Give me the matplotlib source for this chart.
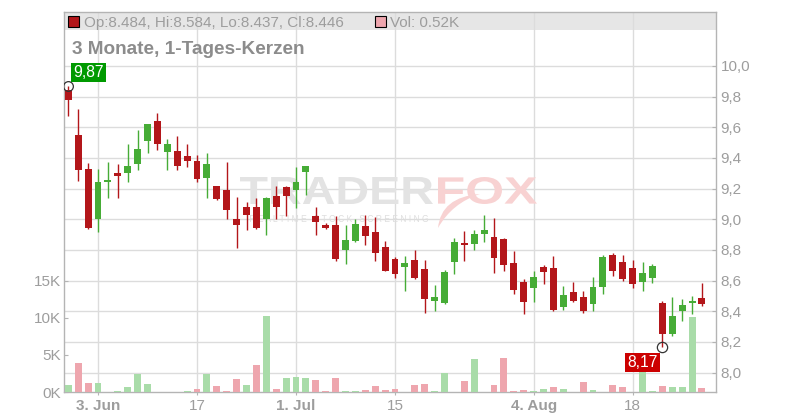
import matplotlib
matplotlib.use("Agg")
import matplotlib.pyplot as plt
from matplotlib.patches import Rectangle, PathPatch
from matplotlib.path import Path
from matplotlib.textpath import TextPath
from matplotlib.font_manager import FontProperties
from matplotlib.transforms import Affine2D
import numpy as np
import pandas as pd

plt.rcParams['font.family'] = ['Liberation Sans', 'DejaVu Sans']

# daily candles, 29 May - 27 Aug 2025
dates = pd.bdate_range("2025-05-29", periods=65)

opens = [9.84, 9.55, 9.33, 9.00, 9.24, 9.30, 9.30, 9.36, 9.51, 9.64,
         9.44, 9.445, 9.41, 9.38, 9.27, 9.22, 9.19, 9.00, 9.08, 9.08,
         9.00, 9.15, 9.21, 9.19, 9.31, 9.02, 8.965, 8.96, 8.80, 8.86,
         8.955, 8.92, 8.82, 8.74, 8.69, 8.735, 8.675, 8.47, 8.455, 8.72,
         8.845, 8.84, 8.905, 8.885, 8.87, 8.715, 8.59, 8.55, 8.69, 8.68,
         8.43, 8.525, 8.495, 8.445, 8.56, 8.765, 8.72, 8.685, 8.59, 8.615,
         8.455, 8.255, 8.40, 8.455, 8.484]
highs = [9.87, 9.72, 9.365, 9.33, 9.37, 9.36, 9.49, 9.58, 9.62, 9.69,
         9.52, 9.54, 9.49, 9.42, 9.43, 9.22, 9.37, 9.145, 9.11, 9.14,
         9.145, 9.22, 9.22, 9.34, 9.35, 9.08, 8.975, 9.02, 8.96, 9.00,
         9.03, 9.015, 8.86, 8.755, 8.76, 8.80, 8.735, 8.57, 8.67, 8.875,
         8.925, 8.93, 9.03, 9.01, 8.875, 8.795, 8.61, 8.665, 8.70, 8.76,
         8.565, 8.59, 8.535, 8.625, 8.77, 8.78, 8.77, 8.735, 8.72, 8.71,
         8.465, 8.495, 8.48, 8.50, 8.584]
lows = [9.67, 9.25, 8.935, 8.92, 9.14, 9.14, 9.24, 9.32, 9.43, 9.45,
        9.32, 9.32, 9.34, 9.245, 9.14, 9.125, 9.00, 8.815, 8.93, 8.935,
        8.90, 9.00, 9.02, 9.075, 9.155, 8.90, 8.935, 8.73, 8.71, 8.855,
        8.835, 8.73, 8.66, 8.615, 8.53, 8.61, 8.39, 8.40, 8.45, 8.645,
        8.73, 8.80, 8.85, 8.65, 8.665, 8.515, 8.38, 8.46, 8.575, 8.40,
        8.41, 8.46, 8.39, 8.40, 8.515, 8.63, 8.60, 8.555, 8.535, 8.585,
        8.17, 8.24, 8.335, 8.385, 8.437]
closes = [9.78, 9.32, 8.945, 9.24, 9.255, 9.285, 9.35, 9.46, 9.62, 9.49,
          9.49, 9.345, 9.38, 9.265, 9.36, 9.13, 9.063, 8.96, 9.03, 8.94,
          9.14, 9.08, 9.15, 9.24, 9.35, 8.985, 8.945, 8.74, 8.865, 8.97,
          8.89, 8.78, 8.665, 8.64, 8.715, 8.62, 8.48, 8.49, 8.655, 8.85,
          8.835, 8.905, 8.93, 8.745, 8.705, 8.54, 8.46, 8.625, 8.655, 8.41,
          8.505, 8.47, 8.40, 8.56, 8.755, 8.665, 8.61, 8.58, 8.65, 8.695,
          8.25, 8.37, 8.44, 8.465, 8.446]
volumes_k = [0.98, 3.9, 1.25, 1.25, 0, 0.15, 0.7, 2.45, 1.1, 0,
             0, 0, 0.15, 0.45, 2.45, 0.85, 0.2, 1.8, 0.98, 3.6,
             10.2, 0.43, 1.9, 2.05, 1.9, 1.65, 0.15, 1.9, 0.15, 0.15,
             0.3, 0.85, 0.3, 0.4, 0, 0.95, 1.05, 0.15, 2.55, 0,
             1.5, 4.5, 0, 0.95, 4.6, 0.15, 0.25, 0.1, 0.4, 0.65,
             0.4, 0, 1.35, 0.27, 0, 0.95, 0.67, 0, 3.2, 0.15,
             0.8, 0.68, 0.68, 10.1, 0.52]

tick_dates = ["2025-06-03", "2025-06-17", "2025-07-01", "2025-07-15", "2025-08-04", "2025-08-18"]
tick_labels = ["3. Jun", "17", "1. Jul", "15", "4. Aug", "18"]
bold_labels = ["3. Jun", "1. Jul", "4. Aug"]
price_ticks = [8.0, 8.2, 8.4, 8.6, 8.8, 9.0, 9.2, 9.4, 9.6, 9.8, 10.0]
price_labels = ["8,0", "8,2", "8,4", "8,6", "8,8", "9,0", "9,2", "9,4", "9,6", "9,8", "10,0"]
vol_ticks = [0, 5, 10, 15]
vol_labels = ["0K", "5K", "10K", "15K"]

UP = '#46ac36'
DOWN = '#b3161a'
VOL_UP = '#a9dca9'
VOL_DOWN = '#eea6ae'
GRID = '#dcdcdc'
FRAME = '#b4b4b4'
TXT = '#9d9d9d'

W, H = 800, 420
fig = plt.figure(figsize=(8, 4.2), dpi=100)
ax = fig.add_axes([64 / W, 28 / H, 652 / W, 380 / H])
axv = ax.twinx()

x = np.arange(len(dates))
o = np.array(opens)
c = np.array(closes)

# price candles
up = c >= o
col = np.where(up, UP, DOWN)
ax.vlines(x, lows, highs, colors=col, lw=1.0, zorder=2)
body_lo = np.minimum(o, c)
body_h = np.maximum(np.abs(c - o), 0.012)
ax.bar(x, body_h, bottom=body_lo, width=0.7, color=col, lw=0, zorder=3)

ax.set_xlim(-0.434, 65.42)
ax.set_ylim(7.874, 10.351)
ax.yaxis.tick_right()
ax.set_yticks(price_ticks)
ax.set_yticklabels(price_labels)
pos = [dates.get_loc(pd.Timestamp(d)) for d in tick_dates]
ax.set_xticks(pos)
ax.set_xticklabels(tick_labels)
for lab in ax.get_xticklabels():
    if lab.get_text() in bold_labels:
        lab.set_fontweight('bold')
ax.tick_params(axis='y', direction='in', length=3, width=0.8, color=FRAME,
               labelsize=11, labelcolor=TXT, pad=3.4)
ax.tick_params(axis='x', direction='out', length=2.2, width=0.8, color=FRAME,
               labelsize=11, labelcolor=TXT, pad=2.8)
ax.grid(True, color=GRID, lw=1.0)
ax.set_axisbelow(True)
for s in ax.spines.values():
    s.set_color(FRAME)
    s.set_linewidth(1.0)

# header strip
ax.add_patch(Rectangle((0, 1 - 18 / 380), 1, 18 / 380, transform=ax.transAxes,
                       fc='#e6e6e6', ec='none', zorder=0.3))


def watermark(text, x0, x1, ytop, ybot, color, weight='bold'):
    fp = FontProperties(family='Liberation Sans', weight=weight)
    tp = TextPath((0, 0), text, size=100, prop=fp)
    bb = tp.get_extents()
    sx = (x1 - x0) / bb.width
    sy = (ybot - ytop) / bb.height
    tr = Affine2D().translate(-bb.x0, -bb.y0).scale(sx, sy).translate(x0, H - ybot)
    ax.add_artist(PathPatch(tp, transform=tr, fc=color, ec='none', zorder=0.6))


watermark("TRADER", 240, 433, 177, 204, '#e3e3e3')
watermark("FOX", 438, 537, 177, 204, '#f8d2d2')
watermark("R E A L T I M E   S T O C K   S C R E E N I N G", 250, 428, 215, 222,
          '#dedede', weight='normal')

# fox tail swoosh under the logo
tail = Path([(438, H - 228), (441, H - 197), (480, H - 194),
             (452, H - 203), (438, H - 228)],
            [Path.MOVETO, Path.CURVE3, Path.CURVE3, Path.CURVE3, Path.CURVE3])
ax.add_artist(PathPatch(tail, transform=Affine2D(), fc='#f8d2d2', ec='none', zorder=0.6))

# volume
prev = np.concatenate([[c[0]], c[:-1]])
vcol = np.where(c >= prev, VOL_UP, VOL_DOWN)
axv.bar(x, volumes_k, width=0.7, color=vcol, lw=0, zorder=2)
axv.set_ylim(0, 380 / 7.42)
axv.yaxis.tick_left()
axv.set_yticks(vol_ticks)
axv.set_yticklabels(vol_labels)
axv.tick_params(axis='y', direction='in', length=3, width=0.8, color=FRAME,
                labelsize=11, labelcolor=TXT, pad=2.5)
for s in axv.spines.values():
    s.set_visible(False)

# high / low markers
i_hi = int(np.argmax(highs))
i_lo = int(np.argmin(lows))
ax.plot([i_hi], [highs[i_hi]], 'o', mfc='none', mec='#333333', ms=7, mew=0.9, zorder=5)
ax.plot([i_lo], [lows[i_lo]], 'o', mfc='none', mec='#333333', ms=7.4, mew=0.9, zorder=5)
axv.annotate(f"{highs[i_hi]:.2f}".replace('.', ','), xy=(i_hi, highs[i_hi]),
             xycoords=ax.transData, xytext=(14.5, 9.5), textcoords='offset points',
             ha='center', va='center', color='white', fontsize=11.3, zorder=6,
             bbox=dict(boxstyle='square,pad=0.14', fc='#009a00', ec='none'))
axv.annotate(f"{lows[i_lo]:.2f}".replace('.', ','), xy=(i_lo, lows[i_lo]),
             xycoords=ax.transData, xytext=(-14.3, -11.4), textcoords='offset points',
             ha='center', va='center', color='white', fontsize=11.3, zorder=6,
             bbox=dict(boxstyle='square,pad=0.14', fc='#cc0000', ec='none'))

# header legend
fig.add_artist(Rectangle((68.3 / W, 1 - 26.7 / H), 10.7 / W, 10.3 / H, transform=fig.transFigure,
                         fc=DOWN, ec='black', lw=0.8))
fig.text(84 / W, 1 - 26.7 / H,
         f"Op:{opens[-1]:.3f}, Hi:{highs[-1]:.3f}, Lo:{lows[-1]:.3f}, Cl:{closes[-1]:.3f}",
         fontsize=11, color=TXT, va='baseline')
fig.add_artist(Rectangle((375 / W, 1 - 26.7 / H), 10.7 / W, 10.3 / H, transform=fig.transFigure,
                         fc=VOL_DOWN, ec='black', lw=0.8))
fig.text(390 / W, 1 - 26.7 / H, f"Vol: {volumes_k[-1]:.2f}K", fontsize=11, color=TXT, va='baseline')
fig.text(72 / W, 1 - 54 / H, "3 Monate, 1-Tages-Kerzen", fontsize=13.7, fontweight='bold',
         color='#8c8c8c', va='baseline')

fig.savefig("out.png", dpi=100, facecolor='white')
